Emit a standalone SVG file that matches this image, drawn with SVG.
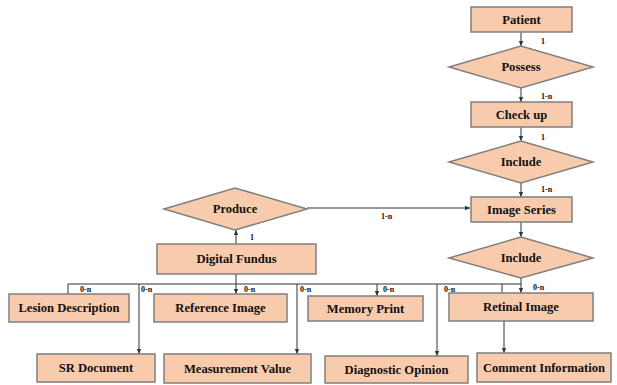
<svg xmlns="http://www.w3.org/2000/svg" width="617" height="385" viewBox="0 0 617 385">
<defs>
<marker id="ah" markerWidth="6" markerHeight="6" refX="5" refY="3" orient="auto" markerUnits="userSpaceOnUse">
<path d="M0,0.8 L5,3 L0,5.2 Z" fill="#333"/>
</marker>
</defs>
<style>
.n{fill:#f8cbad;stroke:#7f7f7f;stroke-width:1.5}
.t{font-family:"Liberation Serif",serif;font-weight:bold;font-size:12.6px;fill:#111;text-anchor:middle;dominant-baseline:central}
.l{font-family:"Liberation Serif",serif;font-weight:bold;font-size:8px;fill:#111}
.c{stroke:#333;stroke-width:1;fill:none}
</style>
<rect width="617" height="385" fill="#fff"/>
<g id="connectors">
<line class="c" x1="521" y1="32" x2="521" y2="46" marker-end="url(#ah)"/>
<line class="c" x1="521" y1="88" x2="521" y2="102" marker-end="url(#ah)"/>
<line class="c" x1="521" y1="127" x2="521" y2="141" marker-end="url(#ah)"/>
<line class="c" x1="521" y1="183" x2="521" y2="197" marker-end="url(#ah)"/>
<line class="c" x1="521" y1="222" x2="521" y2="237" marker-end="url(#ah)"/>
<line class="c" x1="307" y1="208" x2="470" y2="208" marker-end="url(#ah)"/>
<line class="c" x1="236" y1="244" x2="236" y2="230" marker-end="url(#ah)"/>
<line class="c" x1="236" y1="274" x2="236" y2="294" marker-end="url(#ah)"/>
<polyline class="c" points="68,294 68,284 521,284 521,278"/>
<line class="c" x1="521" y1="284" x2="521" y2="293" marker-end="url(#ah)"/>
<line class="c" x1="502" y1="284" x2="502" y2="293"/>
<line class="c" x1="139" y1="284" x2="139" y2="354" marker-end="url(#ah)"/>
<line class="c" x1="297" y1="284" x2="297" y2="354" marker-end="url(#ah)"/>
<line class="c" x1="377" y1="284" x2="377" y2="296" marker-end="url(#ah)"/>
<line class="c" x1="437" y1="284" x2="437" y2="356" marker-end="url(#ah)"/>
<line class="c" x1="504" y1="321" x2="504" y2="353" marker-end="url(#ah)"/>
<text class="l" x="541" y="44">1</text>
<text class="l" x="541" y="99">1-n</text>
<text class="l" x="541" y="140">1</text>
<text class="l" x="541" y="192">1-n</text>
<text class="l" x="381" y="219">1-n</text>
<text class="l" x="250" y="240">1</text>
<text class="l" x="80" y="292">0-n</text>
<text class="l" x="141" y="292">0-n</text>
<text class="l" x="244" y="292">0-n</text>
<text class="l" x="300" y="292">0-n</text>
<text class="l" x="383" y="292">0-n</text>
<text class="l" x="444" y="292">0-n</text>
<text class="l" x="533" y="290">0-n</text>
</g>
<g id="patient"><rect class="n" x="471" y="7" width="101" height="25"/><text class="t" x="521.5" y="19.5">Patient</text></g>
<g id="possess"><polygon class="n" points="449,67 521,46 593,67 521,88"/><text class="t" x="521" y="67">Possess</text></g>
<g id="checkup"><rect class="n" x="471" y="102" width="101" height="25"/><text class="t" x="521.5" y="114.5">Check up</text></g>
<g id="include1"><polygon class="n" points="449,162 521,141 593,162 521,183"/><text class="t" x="521" y="162">Include</text></g>
<g id="imageseries"><rect class="n" x="471" y="197" width="101" height="25"/><text class="t" x="521.5" y="209.5">Image Series</text></g>
<g id="include2"><polygon class="n" points="449,258 521,237 593,258 521,278"/><text class="t" x="521" y="257.5">Include</text></g>
<g id="produce"><polygon class="n" points="164,209 235,188 307,209 235,230"/><text class="t" x="235" y="209">Produce</text></g>
<g id="digitalfundus"><rect class="n" x="157" y="244" width="159" height="30"/><text class="t" x="236.5" y="259">Digital Fundus</text></g>
<g id="lesion"><rect class="n" x="9" y="294" width="120" height="28"/><text class="t" x="69" y="308">Lesion Description</text></g>
<g id="reference"><rect class="n" x="154" y="294" width="133" height="28"/><text class="t" x="220.5" y="308">Reference Image</text></g>
<g id="memory"><rect class="n" x="308" y="296" width="115" height="25"/><text class="t" x="365.5" y="308.5">Memory Print</text></g>
<g id="retinal"><rect class="n" x="449" y="293" width="144" height="28"/><text class="t" x="521" y="307">Retinal Image</text></g>
<g id="srdocument"><rect class="n" x="37" y="354" width="118" height="28"/><text class="t" x="96" y="368">SR Document</text></g>
<g id="measurement"><rect class="n" x="164" y="354" width="147" height="29"/><text class="t" x="237.5" y="368.5">Measurement Value</text></g>
<g id="diagnostic"><rect class="n" x="325" y="356" width="143" height="27"/><text class="t" x="396.5" y="369.5">Diagnostic Opinion</text></g>
<g id="comment"><rect class="n" x="477" y="353" width="134" height="29"/><text class="t" x="544" y="367.5">Comment Information</text></g>
</svg>
